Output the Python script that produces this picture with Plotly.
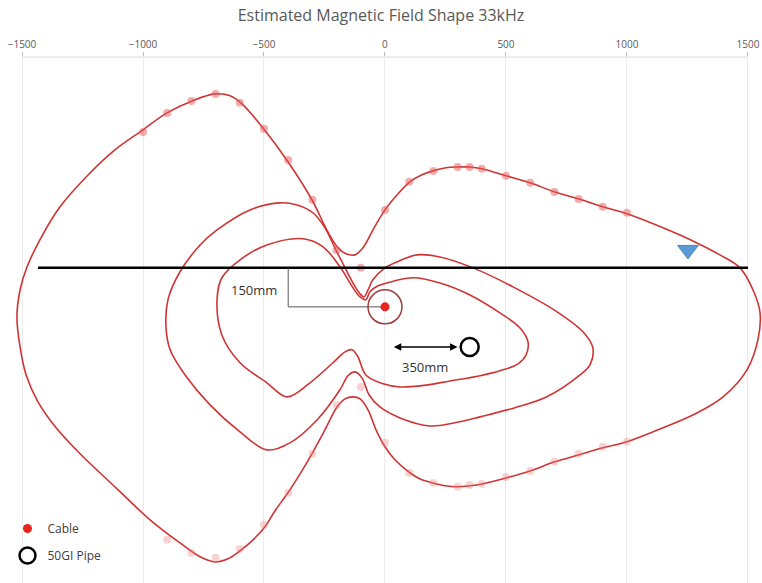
import plotly.graph_objects as go

# ---------------- data (mm) ----------------
# Outer field contour (largest loop)
outer_x = [-124, -91, -45, 0, 54, 103, 153, 198, 252, 302, 351, 401, 500, 599, 702, 802, 901, 1000,
           1149, 1289, 1384, 1467, 1521, 1550, 1541, 1496, 1397, 1289, 1149, 1000, 901, 802, 702, 599,
           500, 401, 351, 302, 248, 198, 145, 103, 41, 0, -37, -70, -103, -132, -165, -198, -248, -302,
           -351, -401, -455, -496, -545, -599, -649, -702, -764, -847, -971, -1107, -1260, -1359, -1434,
           -1483, -1508, -1521, -1508, -1479, -1426, -1343, -1219, -1116, -1000, -901, -797, -702, -640,
           -591, -504, -401, -302, -236, -194, -161, -124]
outer_y = [50, 77, 154, 223, 285, 331, 358, 373, 385, 388, 388, 381, 354, 327, 292, 265, 235, 208,
           154, 96, 50, 0, -85, -173, -277, -392, -496, -558, -615, -669, -692, -719, -746, -781,
           -808, -831, -838, -842, -838, -827, -812, -788, -738, -688, -623, -546, -504, -496, -504, -535,
           -623, -715, -792, -865, -935, -996, -1046, -1088, -1119, -1131, -1111, -1058, -969, -850, -715,
           -615, -515, -412, -304, -188, -85, 4, 108, 235, 365, 454, 531, 596, 642, 669, 662,
           631, 538, 408, 262, 138, 77, 54, 50]

# Middle contour
mid_x = [-87, -70, -50, 0, 50, 132, 227, 364, 529, 711, 818, 859, 847, 806, 669, 537, 393, 289, 186,
         62, -21, -66, -95, -124, -153, -186, -281, -393, -488, -599, -723, -826, -888, -905, -897,
         -847, -764, -694, -558, -434, -364, -298, -248, -207, -165, -128, -103, -87]
mid_y = [-112, -85, -46, 0, 23, 50, 42, 0, -73, -169, -246, -308, -373, -412, -496, -538, -573, -596,
         -608, -577, -535, -488, -423, -400, -415, -469, -585, -673, -700, -631, -527, -412, -315, -227,
         -123, -15, 88, 146, 223, 250, 242, 212, 154, 77, 0, -65, -100, -112]

# Inner contour
inner_x = [-79, -62, -29, 8, 116, 227, 351, 475, 558, 591, 583, 550, 475, 393, 269, 145, 62, -8, -79,
           -112, -136, -165, -215, -310, -405, -488, -599, -674, -694, -674, -599, -488, -339, -256,
           -186, -132, -103, -79]
inner_y = [-123, -92, -69, -58, -38, -58, -104, -173, -231, -285, -335, -369, -396, -415, -435, -454,
           -458, -446, -412, -342, -315, -323, -365, -442, -496, -442, -365, -258, -123, -38, 31, 88,
           112, 81, 4, -77, -112, -123]

# Measured points on the outer contour
pts_top_x = [-1000, -900, -800, -700, -600, -500, -400, -300, -200, -100,
             0, 100, 200, 300, 350, 400, 500, 600, 700, 800, 900, 1000]
pts_top_y = [523, 596, 642, 669, 635, 535, 415, 262, 69, 0,
             223, 331, 373, 388, 388, 381, 354, 327, 292, 265, 235, 212]
pts_bot_x = [-900, -800, -700, -600, -500, -400, -300, -200, -100,
             0, 100, 200, 300, 350, 400, 500, 600, 700, 800, 900, 1000]
pts_bot_y = [-1046, -1096, -1115, -1081, -988, -865, -715, -527, -458,
             -673, -788, -827, -842, -835, -831, -804, -781, -746, -715, -688, -669]

# Surface line, cable, pipe, locator marker
surface_x = [-1434, 1500]
surface_y = [0, 0]
cable_x, cable_y = [0], [-150]
pipe_x, pipe_y = [350], [-304]
locator_x, locator_y = [1252], [69]
depth_bracket_x = [-400, -400, 0]
depth_bracket_y = [0, -150, -150]
arrow_from, arrow_to, arrow_y = 30, 300, -304

x_ticks = [-1500, -1000, -500, 0, 500, 1000, 1500]

RED = "#cf3434"
FONT = "Open Sans"

fig = go.Figure()

for xs, ys in [(outer_x, outer_y), (mid_x, mid_y), (inner_x, inner_y)]:
    fig.add_trace(go.Scatter(x=xs, y=ys, mode="lines", line=dict(color=RED, width=1.6, shape="spline"),
                             showlegend=False, hoverinfo="skip"))

fig.add_trace(go.Scatter(x=pts_top_x, y=pts_top_y, mode="markers",
                         marker=dict(color="rgba(232,90,90,0.5)", size=8), showlegend=False))
fig.add_trace(go.Scatter(x=pts_bot_x, y=pts_bot_y, mode="markers",
                         marker=dict(color="rgba(238,130,130,0.35)", size=8), showlegend=False))

fig.add_trace(go.Scatter(x=surface_x, y=surface_y, mode="lines", line=dict(color="black", width=2.5),
                         showlegend=False))
fig.add_trace(go.Scatter(x=depth_bracket_x, y=depth_bracket_y, mode="lines",
                         line=dict(color="#555555", width=1), showlegend=False))

# circle round the cable
fig.add_trace(go.Scatter(x=cable_x, y=cable_y, mode="markers",
                         marker=dict(symbol="circle-open", size=34, color="#9e3b3b", line=dict(width=1.5)),
                         showlegend=False))

fig.add_trace(go.Scatter(x=cable_x, y=cable_y, mode="markers", name="Cable", legendgroup="a",
                         marker=dict(color="#e8251f", size=9)))
fig.add_trace(go.Scatter(x=pipe_x, y=pipe_y, mode="markers", name="50GI Pipe", legendgroup="b",
                         marker=dict(symbol="circle-open", size=18, color="black", line=dict(width=2.5))))

fig.add_trace(go.Scatter(x=locator_x, y=locator_y, mode="markers", showlegend=False,
                         marker=dict(symbol="triangle-down", size=18, color="#5b9bd5",
                                     line=dict(color="#4a86c0", width=1))))

fig.add_annotation(x=arrow_to, y=arrow_y, ax=arrow_from, ay=arrow_y, xref="x", yref="y",
                   axref="x", ayref="y", text="", showarrow=True, arrowhead=2, arrowside="end+start",
                   arrowsize=1, arrowwidth=1.5, arrowcolor="black")
fig.add_annotation(x=-541, y=-85, text="150mm", showarrow=False,
                   font=dict(family=FONT, size=13, color="#333333"))
fig.add_annotation(x=165, y=-381, text="350mm", showarrow=False,
                   font=dict(family=FONT, size=13, color="#333333"))

# top axis line spanning the tick range
fig.add_shape(type="line", xref="x", yref="paper", x0=x_ticks[0], x1=x_ticks[-1], y0=1, y1=1,
              line=dict(color="#d9d9d9", width=1))

fig.update_layout(
    width=762, height=583,
    margin=dict(l=7, r=0, t=57, b=0, autoexpand=False),
    paper_bgcolor="white", plot_bgcolor="white",
    title=dict(text="Estimated Magnetic Field Shape 33kHz", x=0.5, xref="container", xanchor="center",
               y=1 - 15 / 583, yref="container", yanchor="middle",
               font=dict(family=FONT, size=16, color="#595959")),
    xaxis=dict(side="top", range=[-1562, 1558], tickvals=x_ticks, showgrid=True, gridcolor="#ebebeb",
               gridwidth=1, zeroline=False, showline=False, ticks="outside", automargin=False,
               ticklen=4, tickcolor="#bfbfbf", tickfont=dict(family=FONT, size=10, color="#595959")),
    yaxis=dict(range=[-1212, 811], visible=False, automargin=False),
    legend=dict(x=7.5 / 762, xref="container", xanchor="left", y=1 - 514 / 583, yref="container",
                yanchor="top", traceorder="grouped",
                tracegroupgap=8, bgcolor="rgba(0,0,0,0)",
                font=dict(family=FONT, size=12, color="#404040")),
    showlegend=True,
)

fig.write_html("out.html", config={"displayModeBar": False},
               post_script="document.body.style.margin='0';")
